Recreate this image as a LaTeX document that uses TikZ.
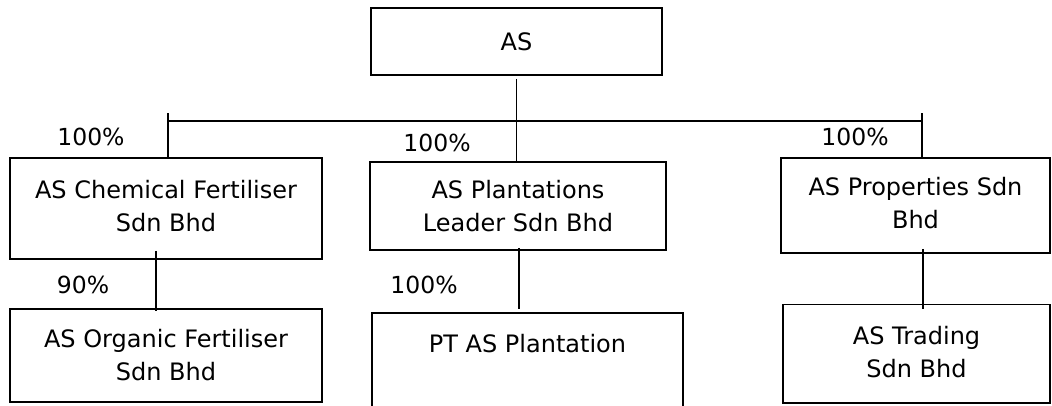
\documentclass[tikz,border=0pt]{standalone}
\usepackage{fontspec}
\setmainfont{DejaVu Sans}
\usetikzlibrary{calc}
\begin{document}
\begin{tikzpicture}[x=1pt,y=-1pt,
  co/.style={draw, line width=1.9pt, align=center, inner sep=0pt,
    font=\fontsize{24}{33}\selectfont},
  link/.style={line width=1.5pt},
  pct/.style={font=\fontsize{23.5}{28}\selectfont, inner sep=0pt}]
\useasboundingbox (0,0) rectangle (1052,405);
\clip (0,0) rectangle (1052,405);

% companies
\node[co, minimum width=291pt, minimum height=67pt] (as) at (516.5,41.5) {AS};
\node[co, minimum width=312pt, minimum height=101pt] (b1) at (166,208.5)
  {AS Chemical Fertiliser\\Sdn Bhd\rule[-6pt]{0pt}{1pt}};
\node[co, minimum width=296pt, minimum height=88pt] (b2) at (518,206)
  {AS Plantations\\Leader Sdn Bhd};
\node[co, minimum width=269pt, minimum height=95pt] (b3) at (915.5,205.5)
  {AS Properties Sdn\\Bhd\rule[-6pt]{0pt}{1pt}};
\node[co, minimum width=312pt, minimum height=93pt] (b4) at (166,355.5)
  {AS Organic Fertiliser\\Sdn Bhd};
\node[co, minimum width=311pt, anchor=north, inner ysep=21pt, text depth=80pt]
  (b5) at (527.5,312) {PT AS Plantation};
\node[co, minimum width=267pt, minimum height=98.5pt] (b6) at (916.5,353.75)
  {AS Trading\\Sdn Bhd\rule[-4pt]{0pt}{1pt}};

% bus from the parent
\coordinate (bl) at (168,121);
\coordinate (br) at (922,121);
\coordinate (tl) at (168,113);
\coordinate (tr) at (922,113);
\draw[link] (bl) -- (br);
\draw[link] ([yshift=-3pt]as.south) -- (as.south |- b2.north);
\draw[link] (tl) -- (tl |- b1.north);
\draw[link] (tr) -- (tr |- b3.north);

% second level links
\draw[link] ($(b1.south)+(-10,-9)$) -- ($(b4.north)+(-10,3)$);
\draw[link] ($(b2.south)+(1,-3)$) -- ($(b5.north)+(-8.5,-3)$);
\draw[link] ($(b3.south)+(7.5,-5)$) -- ($(b6.north)+(6.5,5.5)$);

% shareholdings
\node[pct] (p1) at (91,137) {100\%};
\node[pct] (p2) at (437,143) {100\%};
\node[pct] (p3) at (855,137) {100\%};
\node[pct] (p4) at (83,285) {90\%};
\node[pct] (p5) at (424,285) {100\%};
\end{tikzpicture}
\end{document}
